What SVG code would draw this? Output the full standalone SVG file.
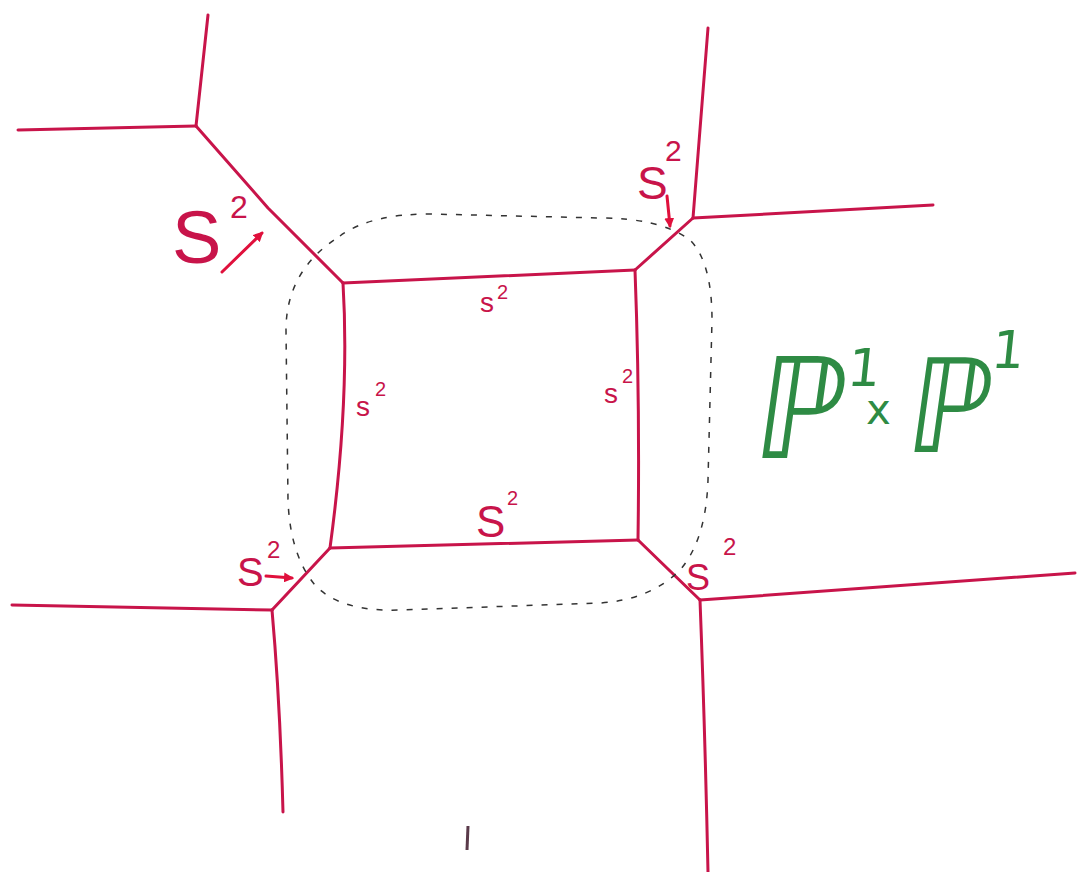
<svg xmlns="http://www.w3.org/2000/svg" width="1078" height="872" viewBox="0 0 1078 872">
<style>
.e{fill:none;stroke:#c8144a;stroke-width:3;stroke-linecap:round;stroke-linejoin:round}
.ar{fill:none;stroke:#e0103c;stroke-width:3;stroke-linecap:round}
.lb{font-family:"Liberation Sans",Arial,sans-serif;fill:#c8144a}
.g{font-family:"DejaVu Sans",sans-serif;fill:#2e8b44}
</style>
<defs>
<marker id="ah" markerWidth="10" markerHeight="10" refX="8" refY="5" orient="auto" markerUnits="userSpaceOnUse" viewBox="0 0 10 10">
<path d="M0,0 L10,5 L0,10 Z" fill="#e0103c"/>
</marker>
</defs>
<rect width="1078" height="872" fill="#fff"/>
<g id="connectors">
<path class="e" d="M208,15 L196,126"/>
<path class="e" d="M18,130 L196,126"/>
<path class="e" d="M196,126 Q230,165 268,208 L343,283"/>
<path class="e" d="M343,283 L635,270"/>
<path class="e" d="M635,270 L693,218"/>
<path class="e" d="M693,218 L708,28"/>
<path class="e" d="M693,218 L933,205"/>
<path class="e" d="M343,283 Q350,400 330,548"/>
<path class="e" d="M635,270 Q640,400 638,540"/>
<path class="e" d="M330,548 L638,540"/>
<path class="e" d="M330,548 L272,610"/>
<path class="e" d="M12,605 L272,610"/>
<path class="e" d="M272,610 Q280,700 283,812"/>
<path class="e" d="M638,540 L700,600"/>
<path class="e" d="M700,600 L1075,573"/>
<path class="e" d="M700,600 Q705,730 708,872"/>
<path d="M468,826 L467,850" fill="none" stroke="#5a3a4a" stroke-width="3"/>
<path d="M340,236 Q370,214 430,214 L600,218 Q660,218 690,240 Q712,262 712,320 L708,480 Q706,540 680,570 Q650,600 600,603 L400,610 Q340,612 315,585 Q290,555 288,500 L286,330 Q286,270 340,236 Z" fill="none" stroke="#333" stroke-width="1.5" stroke-dasharray="6 9"/>
<path class="ar" d="M222,272 L262,233" marker-end="url(#ah)"/>
<path class="ar" d="M667,196 L670,226" marker-end="url(#ah)"/>
<path class="ar" d="M266,576 L292,578" marker-end="url(#ah)"/>
</g>
<g id="label-tl"><text class="lb" x="172" y="263" font-size="74">S</text><text class="lb" x="230" y="218" font-size="32">2</text></g>
<g id="label-tr"><text class="lb" x="637" y="199" font-size="46">S</text><text class="lb" x="665" y="161" font-size="30">2</text></g>
<g id="label-top"><text class="lb" x="480" y="312" font-size="28">s</text><text class="lb" x="497" y="299" font-size="20">2</text></g>
<g id="label-left"><text class="lb" x="356" y="416" font-size="28">s</text><text class="lb" x="375" y="396" font-size="20">2</text></g>
<g id="label-right"><text class="lb" x="604" y="403" font-size="28">s</text><text class="lb" x="622" y="383" font-size="20">2</text></g>
<g id="label-bottom"><text class="lb" x="476" y="537" font-size="44">S</text><text class="lb" x="507" y="505" font-size="20">2</text></g>
<g id="label-bl"><text class="lb" x="237" y="586" font-size="40">S</text><text class="lb" x="267" y="558" font-size="24">2</text></g>
<g id="label-br"><text class="lb" x="686" y="590" font-size="36">S</text><text class="lb" x="723" y="555" font-size="24">2</text></g>
<g id="label-p1p1">
<text class="g" transform="translate(750,458) skewX(-8) scale(0.9,1)" font-size="140">ℙ</text>
<text class="g" transform="translate(846,386) skewX(-6)" font-size="52">1</text>
<text class="g" transform="translate(866,424)" font-size="42">x</text>
<text class="g" transform="translate(903,452) skewX(-8) scale(0.9,1)" font-size="130">ℙ</text>
<text class="g" transform="translate(990,368) skewX(-6)" font-size="52">1</text>
</g>
</svg>
